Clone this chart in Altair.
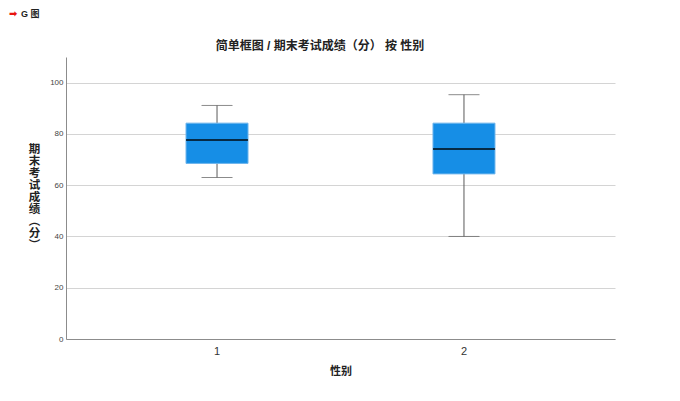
import altair as alt
import pandas as pd

groups = ["1", "2"]
mins = [63, 40]
q1s = [68.5, 64.4]
medians = [77.6, 74.1]
q3s = [84.2, 84.2]
maxs = [91.1, 95.3]
y_ticks = [0, 20, 40, 60, 80, 100]

df = pd.DataFrame({"g": groups, "lo": mins, "q1": q1s, "med": medians, "q3": q3s, "hi": maxs})

FONT = "Liberation Sans, Noto Sans CJK SC"

xs = alt.X("g:N", title="性别",
           scale=alt.Scale(paddingInner=0.749, paddingOuter=0.486),
           axis=alt.Axis(labelAngle=0, labelFontSize=11, labelColor="#333333", labelPadding=6,
                         tickSize=0, domainColor="#8c8c8c", titleFontSize=11, titleFontWeight="bold",
                         titlePadding=9, titleColor="#222222", grid=False))
yaxis = alt.Axis(values=y_ticks, title=list("期末考试成绩︵分︶"), titleAngle=0, titleAlign="center",
                 titleBaseline="top", titleX=-32, titleY=86, titleLineHeight=12, titleFontSize=11.5,
                 titleFontWeight="bold", titleColor="#222222", labelFontSize=8, labelColor="#444444",
                 labelPadding=3, tickSize=0, domainColor="#8c8c8c", gridColor="#d4d4d4")
yscale = alt.Scale(domain=[0, 110], nice=False)

base = alt.Chart(df)

whisk_hi = base.mark_rule(color="#5a5a5a", strokeWidth=1).encode(
    x=xs, y=alt.Y("q3:Q", scale=yscale, axis=yaxis), y2="hi:Q")
whisk_lo = base.mark_rule(color="#5a5a5a", strokeWidth=1).encode(
    x="g:N", y="lo:Q", y2="q1:Q")
cap_hi = base.mark_tick(color="#5a5a5a", size=31, thickness=1).encode(x="g:N", y="hi:Q")
cap_lo = base.mark_tick(color="#5a5a5a", size=31, thickness=1).encode(x="g:N", y="lo:Q")
box = base.mark_bar(color="#168ee6", stroke="#6db4ec", strokeWidth=1).encode(
    x="g:N", y="q1:Q", y2="q3:Q")
med = base.mark_tick(color="#000000", size=62, thickness=2).encode(x="g:N", y="med:Q")

hdr_arrow = alt.Chart(pd.DataFrame({"t": ["➡"]})).mark_text(
    color="#e8140f", fontSize=10, fontWeight="bold", align="left", baseline="middle",
    font="DejaVu Sans").encode(text="t:N", x=alt.value(-57), y=alt.value(-43))
hdr_text = alt.Chart(pd.DataFrame({"t": ["G 图"]})).mark_text(
    color="#222222", fontSize=9, fontWeight="bold", align="left", baseline="middle", font=FONT).encode(
    text="t:N", x=alt.value(-45), y=alt.value(-43))

title_txt = alt.Chart(pd.DataFrame({"t": ["简单框图 / 期末考试成绩（分） 按 性别"]})).mark_text(
    color="#222222", fontSize=12, fontWeight="bold", align="center", baseline="middle", font=FONT).encode(
    text="t:N", x=alt.value(254), y=alt.value(-11))

chart = alt.layer(whisk_hi, whisk_lo, cap_hi, cap_lo, box, med, hdr_arrow, hdr_text, title_txt).properties(
    width=549, height=282,
    autosize=alt.AutoSizeParams(type="none"),
    padding={"left": 58, "top": 49, "right": 57, "bottom": 60},
).configure(font=FONT).configure_view(strokeWidth=0, strokeOpacity=0)

chart.save("out.html", embed_options={"renderer": "svg", "actions": False})
